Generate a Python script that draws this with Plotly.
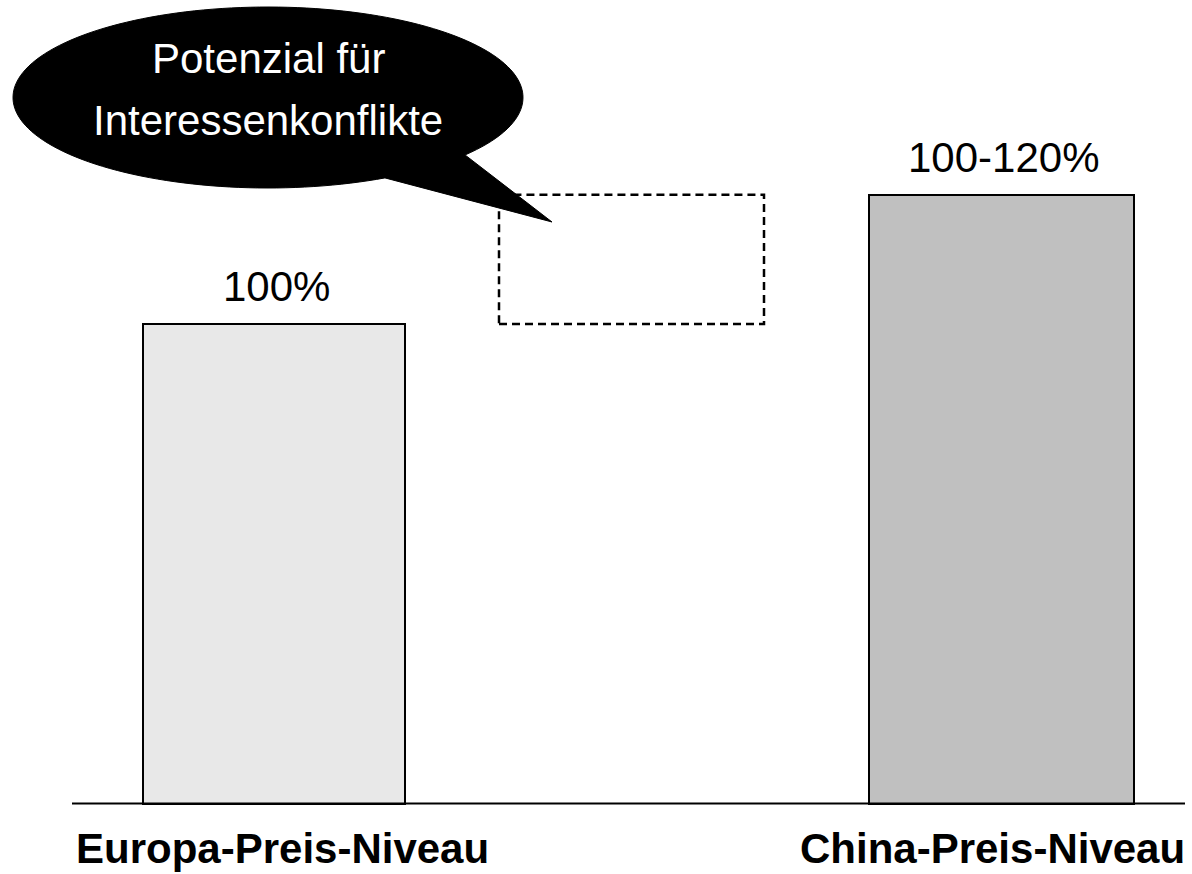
import numpy as np
import plotly.graph_objects as go

# ---- data ----
categories = ["Europa-Preis-Niveau", "China-Preis-Niveau"]
values = [100, 127]                 # bar heights (Europa = 100)
value_labels = ["100%", "100-120%"]
bubble_lines = ["Potenzial für", "Interessenkonflikte"]
bar_colors = ["#e8e8e8", "#c0c0c0"]

# ---- layout constants (pixel-like x axis, scaled y axis) ----
W, H = 1192, 874
bar_x = [274, 1001]
bar_w = [262, 265]
gap_box_x = [499, 764]
baseline_x = [72, 1185]
y_range = [-14.7, 167.6]

fig = go.Figure()
fig.add_trace(go.Bar(
    x=bar_x, y=values, width=bar_w,
    marker=dict(color=bar_colors, line=dict(color="black", width=2)),
    hoverinfo="skip", showlegend=False,
))

shapes = []
# baseline
shapes.append(dict(type="line", xref="x", yref="y", x0=baseline_x[0], x1=baseline_x[1],
                   y0=0, y1=0, line=dict(color="black", width=2)))
# dashed gap box between the two price levels
shapes.append(dict(type="rect", xref="x", yref="y", x0=gap_box_x[0], x1=gap_box_x[1],
                   y0=min(values), y1=max(values),
                   line=dict(color="black", width=2.5, dash="8px,5px"),
                   fillcolor="rgba(0,0,0,0)"))

# speech bubble (ellipse + tail), in page pixels -> paper
cx, cy, a, b = 268, 97.5, 255, 90.5
t0, t1 = np.deg2rad(62.7), np.deg2rad(360 + 39.4)
ts = np.linspace(t0, t1, 160)
pts = [(cx + a * np.cos(t), cy + b * np.sin(t)) for t in ts]
pts.append((552, 222))
def P(x, y):
    return f"{x / W:.5f},{1 - y / H:.5f}"
path = "M " + " L ".join(P(x, y) for x, y in pts) + " Z"
shapes.append(dict(type="path", xref="paper", yref="paper", path=path,
                   fillcolor="black", line=dict(color="black", width=1)))

FONT = "Liberation Sans, Arial, sans-serif"
annotations = []
# value labels above bars
for xv, v, lab in zip(bar_x, values, value_labels):
    annotations.append(dict(x=xv + 2, y=v, xref="x", yref="y", text=lab, showarrow=False,
                            xanchor="center", yanchor="middle", yshift=37.5,
                            font=dict(family=FONT, size=42, color="black")))
# category labels
annotations.append(dict(x=74 / W, y=1 - 848.5 / H, xref="paper", yref="paper",
                        text=f"<b>{categories[0]}</b>", showarrow=False,
                        xanchor="left", yanchor="middle",
                        font=dict(family=FONT, size=42, color="black")))
annotations.append(dict(x=1187 / W, y=1 - 848.5 / H, xref="paper", yref="paper",
                        text=f"<b>{categories[1]}</b>", showarrow=False,
                        xanchor="right", yanchor="middle",
                        font=dict(family=FONT, size=42, color="black")))
# bubble text
for line, yc in zip(bubble_lines, [58.5, 120.5]):
    annotations.append(dict(x=268 / W, y=1 - yc / H, xref="paper", yref="paper",
                            text=line, showarrow=False, xanchor="center", yanchor="middle",
                            font=dict(family=FONT, size=42, color="white")))

fig.update_layout(
    width=W, height=H,
    margin=dict(l=0, r=0, t=0, b=0),
    paper_bgcolor="white", plot_bgcolor="white",
    xaxis=dict(range=[0, W], visible=False, fixedrange=True),
    yaxis=dict(range=y_range, visible=False, fixedrange=True),
    shapes=shapes, annotations=annotations,
    bargap=0,
)
fig.write_html("out.html", config={"displayModeBar": False},
               post_script="document.body.style.margin='0';document.body.style.overflow='hidden';")
